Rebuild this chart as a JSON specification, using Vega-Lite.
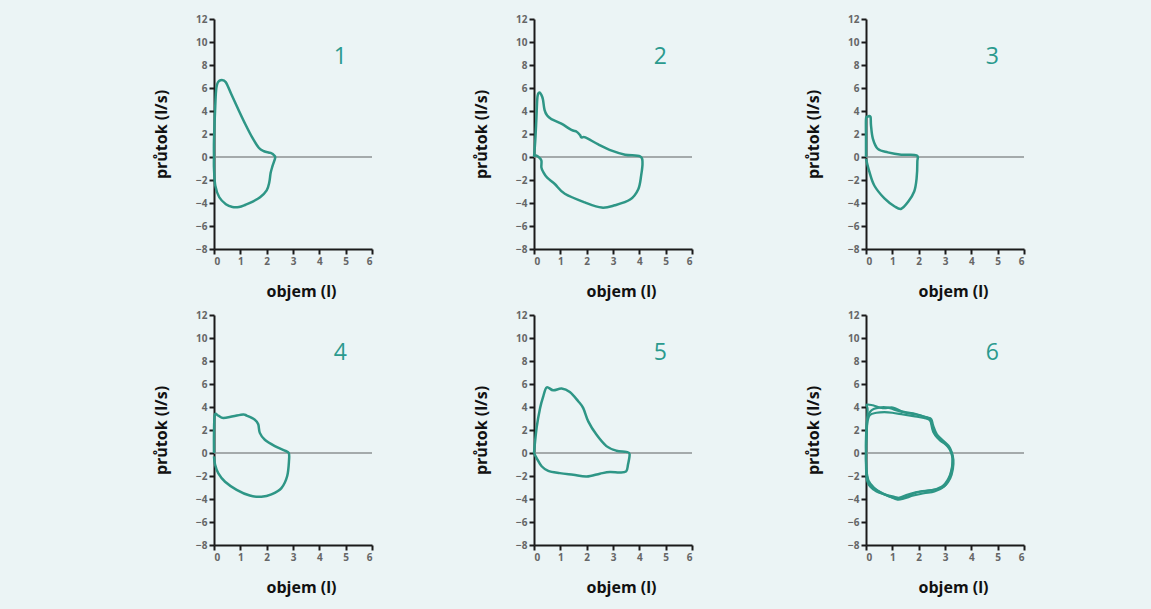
{
"$schema":"https://vega.github.io/schema/vega-lite/v6.json",
"background":"#ebf4f5",
"padding":{"left":153,"top":14,"right":124,"bottom":14},
"datasets":{
"loops":[
{"p":1,"s":"a","i":0,"v":0,"f":0},{"p":1,"s":"a","i":1,"v":0,"f":1.5},{"p":1,"s":"a","i":2,"v":0.04,"f":4.0},{"p":1,"s":"a","i":3,"v":0.08,"f":5.8},{"p":1,"s":"a","i":4,"v":0.15,"f":6.5},{"p":1,"s":"a","i":5,"v":0.3,"f":6.7},{"p":1,"s":"a","i":6,"v":0.45,"f":6.5},{"p":1,"s":"a","i":7,"v":0.65,"f":5.5},{"p":1,"s":"a","i":8,"v":0.95,"f":4.0},{"p":1,"s":"a","i":9,"v":1.2,"f":2.8},{"p":1,"s":"a","i":10,"v":1.45,"f":1.7},{"p":1,"s":"a","i":11,"v":1.7,"f":0.8},{"p":1,"s":"a","i":12,"v":1.9,"f":0.5},{"p":1,"s":"a","i":13,"v":2.15,"f":0.35},{"p":1,"s":"a","i":14,"v":2.3,"f":0.1},{"p":1,"s":"a","i":15,"v":2.32,"f":-0.1},{"p":1,"s":"a","i":16,"v":2.22,"f":-0.8},{"p":1,"s":"a","i":17,"v":2.15,"f":-1.4},{"p":1,"s":"a","i":18,"v":2.1,"f":-2.2},{"p":1,"s":"a","i":19,"v":2.0,"f":-2.9},{"p":1,"s":"a","i":20,"v":1.75,"f":-3.5},{"p":1,"s":"a","i":21,"v":1.45,"f":-3.9},{"p":1,"s":"a","i":22,"v":1.2,"f":-4.15},{"p":1,"s":"a","i":23,"v":0.95,"f":-4.35},{"p":1,"s":"a","i":24,"v":0.7,"f":-4.35},{"p":1,"s":"a","i":25,"v":0.45,"f":-4.1},{"p":1,"s":"a","i":26,"v":0.2,"f":-3.5},{"p":1,"s":"a","i":27,"v":0.05,"f":-2.5},{"p":1,"s":"a","i":28,"v":0,"f":-1.0},{"p":1,"s":"a","i":29,"v":0,"f":0},
{"p":2,"s":"a","i":0,"v":0,"f":0},{"p":2,"s":"a","i":1,"v":0.05,"f":1.5},{"p":2,"s":"a","i":2,"v":0.09,"f":3.3},{"p":2,"s":"a","i":3,"v":0.13,"f":5.2},{"p":2,"s":"a","i":4,"v":0.2,"f":5.6},{"p":2,"s":"a","i":5,"v":0.28,"f":5.4},{"p":2,"s":"a","i":6,"v":0.34,"f":5.0},{"p":2,"s":"a","i":7,"v":0.4,"f":4.1},{"p":2,"s":"a","i":8,"v":0.5,"f":3.6},{"p":2,"s":"a","i":9,"v":0.66,"f":3.3},{"p":2,"s":"a","i":10,"v":1.04,"f":2.9},{"p":2,"s":"a","i":11,"v":1.42,"f":2.35},{"p":2,"s":"a","i":12,"v":1.62,"f":2.2},{"p":2,"s":"a","i":13,"v":1.75,"f":1.9},{"p":2,"s":"a","i":14,"v":1.8,"f":1.7},{"p":2,"s":"a","i":15,"v":1.95,"f":1.7},{"p":2,"s":"a","i":16,"v":2.44,"f":1.1},{"p":2,"s":"a","i":17,"v":2.95,"f":0.55},{"p":2,"s":"a","i":18,"v":3.46,"f":0.2},{"p":2,"s":"a","i":19,"v":4.03,"f":0.05},{"p":2,"s":"a","i":20,"v":4.12,"f":-0.5},{"p":2,"s":"a","i":21,"v":4.07,"f":-1.6},{"p":2,"s":"a","i":22,"v":3.96,"f":-2.8},{"p":2,"s":"a","i":23,"v":3.65,"f":-3.7},{"p":2,"s":"a","i":24,"v":3.07,"f":-4.2},{"p":2,"s":"a","i":25,"v":2.57,"f":-4.4},{"p":2,"s":"a","i":26,"v":1.93,"f":-3.95},{"p":2,"s":"a","i":27,"v":1.17,"f":-3.2},{"p":2,"s":"a","i":28,"v":0.79,"f":-2.35},{"p":2,"s":"a","i":29,"v":0.5,"f":-1.8},{"p":2,"s":"a","i":30,"v":0.35,"f":-1.3},{"p":2,"s":"a","i":31,"v":0.28,"f":-0.9},{"p":2,"s":"a","i":32,"v":0.28,"f":-0.3},{"p":2,"s":"a","i":33,"v":0.15,"f":0.05},{"p":2,"s":"a","i":34,"v":0.03,"f":0.15},
{"p":3,"s":"a","i":0,"v":0,"f":0},{"p":3,"s":"a","i":1,"v":0,"f":1.6},{"p":3,"s":"a","i":2,"v":0,"f":3.3},{"p":3,"s":"a","i":3,"v":0.06,"f":3.5},{"p":3,"s":"a","i":4,"v":0.17,"f":3.5},{"p":3,"s":"a","i":5,"v":0.19,"f":2.75},{"p":3,"s":"a","i":6,"v":0.26,"f":1.6},{"p":3,"s":"a","i":7,"v":0.45,"f":0.7},{"p":3,"s":"a","i":8,"v":0.83,"f":0.4},{"p":3,"s":"a","i":9,"v":1.34,"f":0.2},{"p":3,"s":"a","i":10,"v":1.92,"f":0.15},{"p":3,"s":"a","i":11,"v":1.95,"f":-0.4},{"p":3,"s":"a","i":12,"v":1.92,"f":-1.9},{"p":3,"s":"a","i":13,"v":1.83,"f":-3.0},{"p":3,"s":"a","i":14,"v":1.6,"f":-3.9},{"p":3,"s":"a","i":15,"v":1.34,"f":-4.5},{"p":3,"s":"a","i":16,"v":1.09,"f":-4.3},{"p":3,"s":"a","i":17,"v":0.7,"f":-3.6},{"p":3,"s":"a","i":18,"v":0.32,"f":-2.5},{"p":3,"s":"a","i":19,"v":0.13,"f":-1.3},{"p":3,"s":"a","i":20,"v":0,"f":-0.15},
{"p":4,"s":"a","i":0,"v":0,"f":0},{"p":4,"s":"a","i":1,"v":0,"f":1.75},{"p":4,"s":"a","i":2,"v":0.03,"f":3.3},{"p":4,"s":"a","i":3,"v":0.16,"f":3.25},{"p":4,"s":"a","i":4,"v":0.35,"f":3.05},{"p":4,"s":"a","i":5,"v":0.73,"f":3.2},{"p":4,"s":"a","i":6,"v":1.11,"f":3.35},{"p":4,"s":"a","i":7,"v":1.24,"f":3.25},{"p":4,"s":"a","i":8,"v":1.55,"f":2.9},{"p":4,"s":"a","i":9,"v":1.68,"f":2.5},{"p":4,"s":"a","i":10,"v":1.74,"f":1.75},{"p":4,"s":"a","i":11,"v":1.93,"f":1.15},{"p":4,"s":"a","i":12,"v":2.31,"f":0.6},{"p":4,"s":"a","i":13,"v":2.69,"f":0.2},{"p":4,"s":"a","i":14,"v":2.84,"f":0},{"p":4,"s":"a","i":15,"v":2.85,"f":-0.6},{"p":4,"s":"a","i":16,"v":2.78,"f":-2.0},{"p":4,"s":"a","i":17,"v":2.56,"f":-3.05},{"p":4,"s":"a","i":18,"v":2.18,"f":-3.6},{"p":4,"s":"a","i":19,"v":1.8,"f":-3.8},{"p":4,"s":"a","i":20,"v":1.36,"f":-3.7},{"p":4,"s":"a","i":21,"v":0.86,"f":-3.2},{"p":4,"s":"a","i":22,"v":0.42,"f":-2.5},{"p":4,"s":"a","i":23,"v":0.16,"f":-1.75},{"p":4,"s":"a","i":24,"v":0.04,"f":-1.0},{"p":4,"s":"a","i":25,"v":0,"f":-0.3},
{"p":5,"s":"a","i":0,"v":0,"f":0},{"p":5,"s":"a","i":1,"v":0.1,"f":2.2},{"p":5,"s":"a","i":2,"v":0.23,"f":3.9},{"p":5,"s":"a","i":3,"v":0.35,"f":4.9},{"p":5,"s":"a","i":4,"v":0.48,"f":5.7},{"p":5,"s":"a","i":5,"v":0.73,"f":5.45},{"p":5,"s":"a","i":6,"v":1.05,"f":5.6},{"p":5,"s":"a","i":7,"v":1.36,"f":5.3},{"p":5,"s":"a","i":8,"v":1.68,"f":4.5},{"p":5,"s":"a","i":9,"v":1.87,"f":3.9},{"p":5,"s":"a","i":10,"v":2.06,"f":2.75},{"p":5,"s":"a","i":11,"v":2.37,"f":1.6},{"p":5,"s":"a","i":12,"v":2.75,"f":0.6},{"p":5,"s":"a","i":13,"v":3.13,"f":0.2},{"p":5,"s":"a","i":14,"v":3.5,"f":0.1},{"p":5,"s":"a","i":15,"v":3.63,"f":-0.1},{"p":5,"s":"a","i":16,"v":3.57,"f":-1.0},{"p":5,"s":"a","i":17,"v":3.5,"f":-1.6},{"p":5,"s":"a","i":18,"v":3.25,"f":-1.7},{"p":5,"s":"a","i":19,"v":2.88,"f":-1.65},{"p":5,"s":"a","i":20,"v":2.5,"f":-1.8},{"p":5,"s":"a","i":21,"v":2.0,"f":-2.05},{"p":5,"s":"a","i":22,"v":1.49,"f":-1.9},{"p":5,"s":"a","i":23,"v":0.98,"f":-1.75},{"p":5,"s":"a","i":24,"v":0.54,"f":-1.55},{"p":5,"s":"a","i":25,"v":0.29,"f":-1.15},{"p":5,"s":"a","i":26,"v":0.1,"f":-0.45},{"p":5,"s":"a","i":27,"v":0,"f":0},
{"p":6,"s":"a","i":0,"v":0,"f":0},{"p":6,"s":"a","i":1,"v":0,"f":1.0},{"p":6,"s":"a","i":2,"v":0.03,"f":2.15},{"p":6,"s":"a","i":3,"v":0.06,"f":3.75},{"p":6,"s":"a","i":4,"v":0.03,"f":4.2},{"p":6,"s":"a","i":5,"v":0.26,"f":4.15},{"p":6,"s":"a","i":6,"v":0.64,"f":3.9},{"p":6,"s":"a","i":7,"v":1.02,"f":3.95},{"p":6,"s":"a","i":8,"v":1.4,"f":3.6},{"p":6,"s":"a","i":9,"v":1.79,"f":3.45},{"p":6,"s":"a","i":10,"v":2.23,"f":3.15},{"p":6,"s":"a","i":11,"v":2.43,"f":2.9},{"p":6,"s":"a","i":12,"v":2.55,"f":1.85},{"p":6,"s":"a","i":13,"v":2.81,"f":1.1},{"p":6,"s":"a","i":14,"v":3.07,"f":0.7},{"p":6,"s":"a","i":15,"v":3.26,"f":0},{"p":6,"s":"a","i":16,"v":3.3,"f":-0.75},{"p":6,"s":"a","i":17,"v":3.19,"f":-1.9},{"p":6,"s":"a","i":18,"v":2.94,"f":-2.8},{"p":6,"s":"a","i":19,"v":2.55,"f":-3.2},{"p":6,"s":"a","i":20,"v":2.04,"f":-3.35},{"p":6,"s":"a","i":21,"v":1.53,"f":-3.65},{"p":6,"s":"a","i":22,"v":1.15,"f":-3.95},{"p":6,"s":"a","i":23,"v":0.77,"f":-3.65},{"p":6,"s":"a","i":24,"v":0.38,"f":-3.2},{"p":6,"s":"a","i":25,"v":0.13,"f":-2.8},{"p":6,"s":"a","i":26,"v":0.03,"f":-1.9},{"p":6,"s":"a","i":27,"v":0,"f":-0.75},{"p":6,"s":"a","i":28,"v":0,"f":0},
{"p":6,"s":"b","i":0,"v":0,"f":0},{"p":6,"s":"b","i":1,"v":0.02,"f":1.2},{"p":6,"s":"b","i":2,"v":0.05,"f":2.6},{"p":6,"s":"b","i":3,"v":0.15,"f":3.3},{"p":6,"s":"b","i":4,"v":0.4,"f":3.5},{"p":6,"s":"b","i":5,"v":0.7,"f":3.55},{"p":6,"s":"b","i":6,"v":1.0,"f":3.5},{"p":6,"s":"b","i":7,"v":1.4,"f":3.35},{"p":6,"s":"b","i":8,"v":1.8,"f":3.2},{"p":6,"s":"b","i":9,"v":2.2,"f":3.05},{"p":6,"s":"b","i":10,"v":2.45,"f":2.8},{"p":6,"s":"b","i":11,"v":2.55,"f":2.1},{"p":6,"s":"b","i":12,"v":2.65,"f":1.5},{"p":6,"s":"b","i":13,"v":2.9,"f":1.0},{"p":6,"s":"b","i":14,"v":3.1,"f":0.55},{"p":6,"s":"b","i":15,"v":3.22,"f":0.1},{"p":6,"s":"b","i":16,"v":3.28,"f":-0.5},{"p":6,"s":"b","i":17,"v":3.25,"f":-1.5},{"p":6,"s":"b","i":18,"v":3.15,"f":-2.3},{"p":6,"s":"b","i":19,"v":2.95,"f":-2.95},{"p":6,"s":"b","i":20,"v":2.6,"f":-3.35},{"p":6,"s":"b","i":21,"v":2.2,"f":-3.5},{"p":6,"s":"b","i":22,"v":1.8,"f":-3.7},{"p":6,"s":"b","i":23,"v":1.45,"f":-3.95},{"p":6,"s":"b","i":24,"v":1.2,"f":-4.05},{"p":6,"s":"b","i":25,"v":0.9,"f":-3.8},{"p":6,"s":"b","i":26,"v":0.6,"f":-3.5},{"p":6,"s":"b","i":27,"v":0.3,"f":-3.0},{"p":6,"s":"b","i":28,"v":0.1,"f":-2.4},{"p":6,"s":"b","i":29,"v":0.02,"f":-1.5},{"p":6,"s":"b","i":30,"v":0,"f":-0.5},{"p":6,"s":"b","i":31,"v":0,"f":0},
{"p":6,"s":"c","i":0,"v":0,"f":0},{"p":6,"s":"c","i":1,"v":0,"f":1.5},{"p":6,"s":"c","i":2,"v":0.05,"f":3.0},{"p":6,"s":"c","i":3,"v":0.2,"f":3.7},{"p":6,"s":"c","i":4,"v":0.5,"f":3.95},{"p":6,"s":"c","i":5,"v":0.85,"f":3.95},{"p":6,"s":"c","i":6,"v":1.1,"f":3.75},{"p":6,"s":"c","i":7,"v":1.5,"f":3.5},{"p":6,"s":"c","i":8,"v":1.9,"f":3.35},{"p":6,"s":"c","i":9,"v":2.3,"f":3.1},{"p":6,"s":"c","i":10,"v":2.48,"f":2.95},{"p":6,"s":"c","i":11,"v":2.55,"f":2.4},{"p":6,"s":"c","i":12,"v":2.7,"f":1.6},{"p":6,"s":"c","i":13,"v":2.95,"f":1.05},{"p":6,"s":"c","i":14,"v":3.15,"f":0.6},{"p":6,"s":"c","i":15,"v":3.25,"f":0.1},{"p":6,"s":"c","i":16,"v":3.32,"f":-0.6},{"p":6,"s":"c","i":17,"v":3.3,"f":-1.4},{"p":6,"s":"c","i":18,"v":3.2,"f":-2.2},{"p":6,"s":"c","i":19,"v":3.0,"f":-2.85},{"p":6,"s":"c","i":20,"v":2.7,"f":-3.15},{"p":6,"s":"c","i":21,"v":2.3,"f":-3.3},{"p":6,"s":"c","i":22,"v":1.9,"f":-3.45},{"p":6,"s":"c","i":23,"v":1.6,"f":-3.75},{"p":6,"s":"c","i":24,"v":1.35,"f":-3.9},{"p":6,"s":"c","i":25,"v":1.05,"f":-3.8},{"p":6,"s":"c","i":26,"v":0.7,"f":-3.6},{"p":6,"s":"c","i":27,"v":0.4,"f":-3.35},{"p":6,"s":"c","i":28,"v":0.15,"f":-2.9},{"p":6,"s":"c","i":29,"v":0.03,"f":-2.3},{"p":6,"s":"c","i":30,"v":0,"f":-1.2},{"p":6,"s":"c","i":31,"v":0,"f":0}
],
"zero":[{"v":0,"f":0},{"v":6,"f":0}],
"labels":[{"p":1,"v":4.8,"f":8.7,"lab":"1"},{"p":2,"v":4.8,"f":8.7,"lab":"2"},{"p":3,"v":4.8,"f":8.7,"lab":"3"},{"p":4,"v":4.8,"f":8.7,"lab":"4"},{"p":5,"v":4.8,"f":8.7,"lab":"5"},{"p":6,"v":4.8,"f":8.7,"lab":"6"}]
},
"hconcat":[
 {"hconcat":[
  {"vconcat":[
   {"width":158,"height":230,"encoding":{"x":{"field":"v","type":"quantitative","scale":{"domain":[0,6],"nice":false},"axis":{"values":[0,1,2,3,4,5,6],"title":"objem (l)","titleX":87}},"y":{"field":"f","type":"quantitative","scale":{"domain":[-8,12],"nice":false},"axis":{"values":[-8,-6,-4,-2,0,2,4,6,8,10,12],"title":"průtok (l/s)"}}},
    "layer":[
     {"data":{"name":"zero"},"mark":{"type":"line","color":"#8c9292","strokeWidth":1.5}},
     {"data":{"name":"loops"},"transform":[{"filter":"datum.p==1"}],"mark":{"type":"line","color":"#2e9686","strokeWidth":2.5,"interpolate":"cardinal"},"encoding":{"detail":{"field":"s"},"order":{"field":"i","type":"quantitative"}}},
     {"data":{"name":"labels"},"transform":[{"filter":"datum.p==1"}],"mark":{"type":"text","fontSize":23,"font":"Open Sans","fontWeight":500,"color":"#2a9a8e"},"encoding":{"text":{"field":"lab"}}}
    ]},
   {"width":158,"height":230,"encoding":{"x":{"field":"v","type":"quantitative","scale":{"domain":[0,6],"nice":false},"axis":{"values":[0,1,2,3,4,5,6],"title":"objem (l)","titleX":87}},"y":{"field":"f","type":"quantitative","scale":{"domain":[-8,12],"nice":false},"axis":{"values":[-8,-6,-4,-2,0,2,4,6,8,10,12],"title":"průtok (l/s)"}}},
    "layer":[
     {"data":{"name":"zero"},"mark":{"type":"line","color":"#8c9292","strokeWidth":1.5}},
     {"data":{"name":"loops"},"transform":[{"filter":"datum.p==4"}],"mark":{"type":"line","color":"#2e9686","strokeWidth":2.5,"interpolate":"cardinal"},"encoding":{"detail":{"field":"s"},"order":{"field":"i","type":"quantitative"}}},
     {"data":{"name":"labels"},"transform":[{"filter":"datum.p==4"}],"mark":{"type":"text","fontSize":23,"font":"Open Sans","fontWeight":500,"color":"#2a9a8e"},"encoding":{"text":{"field":"lab"}}}
    ]}
  ],"spacing":11},
  {"vconcat":[
   {"width":158,"height":230,"encoding":{"x":{"field":"v","type":"quantitative","scale":{"domain":[0,6],"nice":false},"axis":{"values":[0,1,2,3,4,5,6],"title":"objem (l)","titleX":87}},"y":{"field":"f","type":"quantitative","scale":{"domain":[-8,12],"nice":false},"axis":{"values":[-8,-6,-4,-2,0,2,4,6,8,10,12],"title":"průtok (l/s)"}}},
    "layer":[
     {"data":{"name":"zero"},"mark":{"type":"line","color":"#8c9292","strokeWidth":1.5}},
     {"data":{"name":"loops"},"transform":[{"filter":"datum.p==2"}],"mark":{"type":"line","color":"#2e9686","strokeWidth":2.5,"interpolate":"cardinal"},"encoding":{"detail":{"field":"s"},"order":{"field":"i","type":"quantitative"}}},
     {"data":{"name":"labels"},"transform":[{"filter":"datum.p==2"}],"mark":{"type":"text","fontSize":23,"font":"Open Sans","fontWeight":500,"color":"#2a9a8e"},"encoding":{"text":{"field":"lab"}}}
    ]},
   {"width":158,"height":230,"encoding":{"x":{"field":"v","type":"quantitative","scale":{"domain":[0,6],"nice":false},"axis":{"values":[0,1,2,3,4,5,6],"title":"objem (l)","titleX":87}},"y":{"field":"f","type":"quantitative","scale":{"domain":[-8,12],"nice":false},"axis":{"values":[-8,-6,-4,-2,0,2,4,6,8,10,12],"title":"průtok (l/s)"}}},
    "layer":[
     {"data":{"name":"zero"},"mark":{"type":"line","color":"#8c9292","strokeWidth":1.5}},
     {"data":{"name":"loops"},"transform":[{"filter":"datum.p==5"}],"mark":{"type":"line","color":"#2e9686","strokeWidth":2.5,"interpolate":"cardinal"},"encoding":{"detail":{"field":"s"},"order":{"field":"i","type":"quantitative"}}},
     {"data":{"name":"labels"},"transform":[{"filter":"datum.p==5"}],"mark":{"type":"text","fontSize":23,"font":"Open Sans","fontWeight":500,"color":"#2a9a8e"},"encoding":{"text":{"field":"lab"}}}
    ]}
  ],"spacing":11}
 ],"spacing":98},
 {"vconcat":[
   {"width":158,"height":230,"encoding":{"x":{"field":"v","type":"quantitative","scale":{"domain":[0,6],"nice":false},"axis":{"values":[0,1,2,3,4,5,6],"title":"objem (l)","titleX":87}},"y":{"field":"f","type":"quantitative","scale":{"domain":[-8,12],"nice":false},"axis":{"values":[-8,-6,-4,-2,0,2,4,6,8,10,12],"title":"průtok (l/s)"}}},
    "layer":[
     {"data":{"name":"zero"},"mark":{"type":"line","color":"#8c9292","strokeWidth":1.5}},
     {"data":{"name":"loops"},"transform":[{"filter":"datum.p==3"}],"mark":{"type":"line","color":"#2e9686","strokeWidth":2.5,"interpolate":"cardinal"},"encoding":{"detail":{"field":"s"},"order":{"field":"i","type":"quantitative"}}},
     {"data":{"name":"labels"},"transform":[{"filter":"datum.p==3"}],"mark":{"type":"text","fontSize":23,"font":"Open Sans","fontWeight":500,"color":"#2a9a8e"},"encoding":{"text":{"field":"lab"}}}
    ]},
   {"width":158,"height":230,"encoding":{"x":{"field":"v","type":"quantitative","scale":{"domain":[0,6],"nice":false},"axis":{"values":[0,1,2,3,4,5,6],"title":"objem (l)","titleX":87}},"y":{"field":"f","type":"quantitative","scale":{"domain":[-8,12],"nice":false},"axis":{"values":[-8,-6,-4,-2,0,2,4,6,8,10,12],"title":"průtok (l/s)"}}},
    "layer":[
     {"data":{"name":"zero"},"mark":{"type":"line","color":"#8c9292","strokeWidth":1.5}},
     {"data":{"name":"loops"},"transform":[{"filter":"datum.p==6"}],"mark":{"type":"line","color":"#2e9686","strokeWidth":2.2,"interpolate":"cardinal"},"encoding":{"detail":{"field":"s"},"order":{"field":"i","type":"quantitative"}}},
     {"data":{"name":"labels"},"transform":[{"filter":"datum.p==6"}],"mark":{"type":"text","fontSize":23,"font":"Open Sans","fontWeight":500,"color":"#2a9a8e"},"encoding":{"text":{"field":"lab"}}}
    ]}
 ],"spacing":11}
],
"spacing":110,
"config":{
 "view":{"stroke":null},
 "axis":{"grid":false,"domainColor":"#1a1a1a","domainWidth":2,"tickColor":"#1a1a1a","tickWidth":2,"tickSize":5,"labelColor":"#666666","labelFontSize":10,"labelFont":"Open Sans","labelFontWeight":"bold","labelPadding":2,"titleFont":"Open Sans","titleFontSize":16,"titleFontWeight":"bold","titleColor":"#111111"},
 "axisY":{"titlePadding":26},
 "axisX":{"titlePadding":17}
}
}
